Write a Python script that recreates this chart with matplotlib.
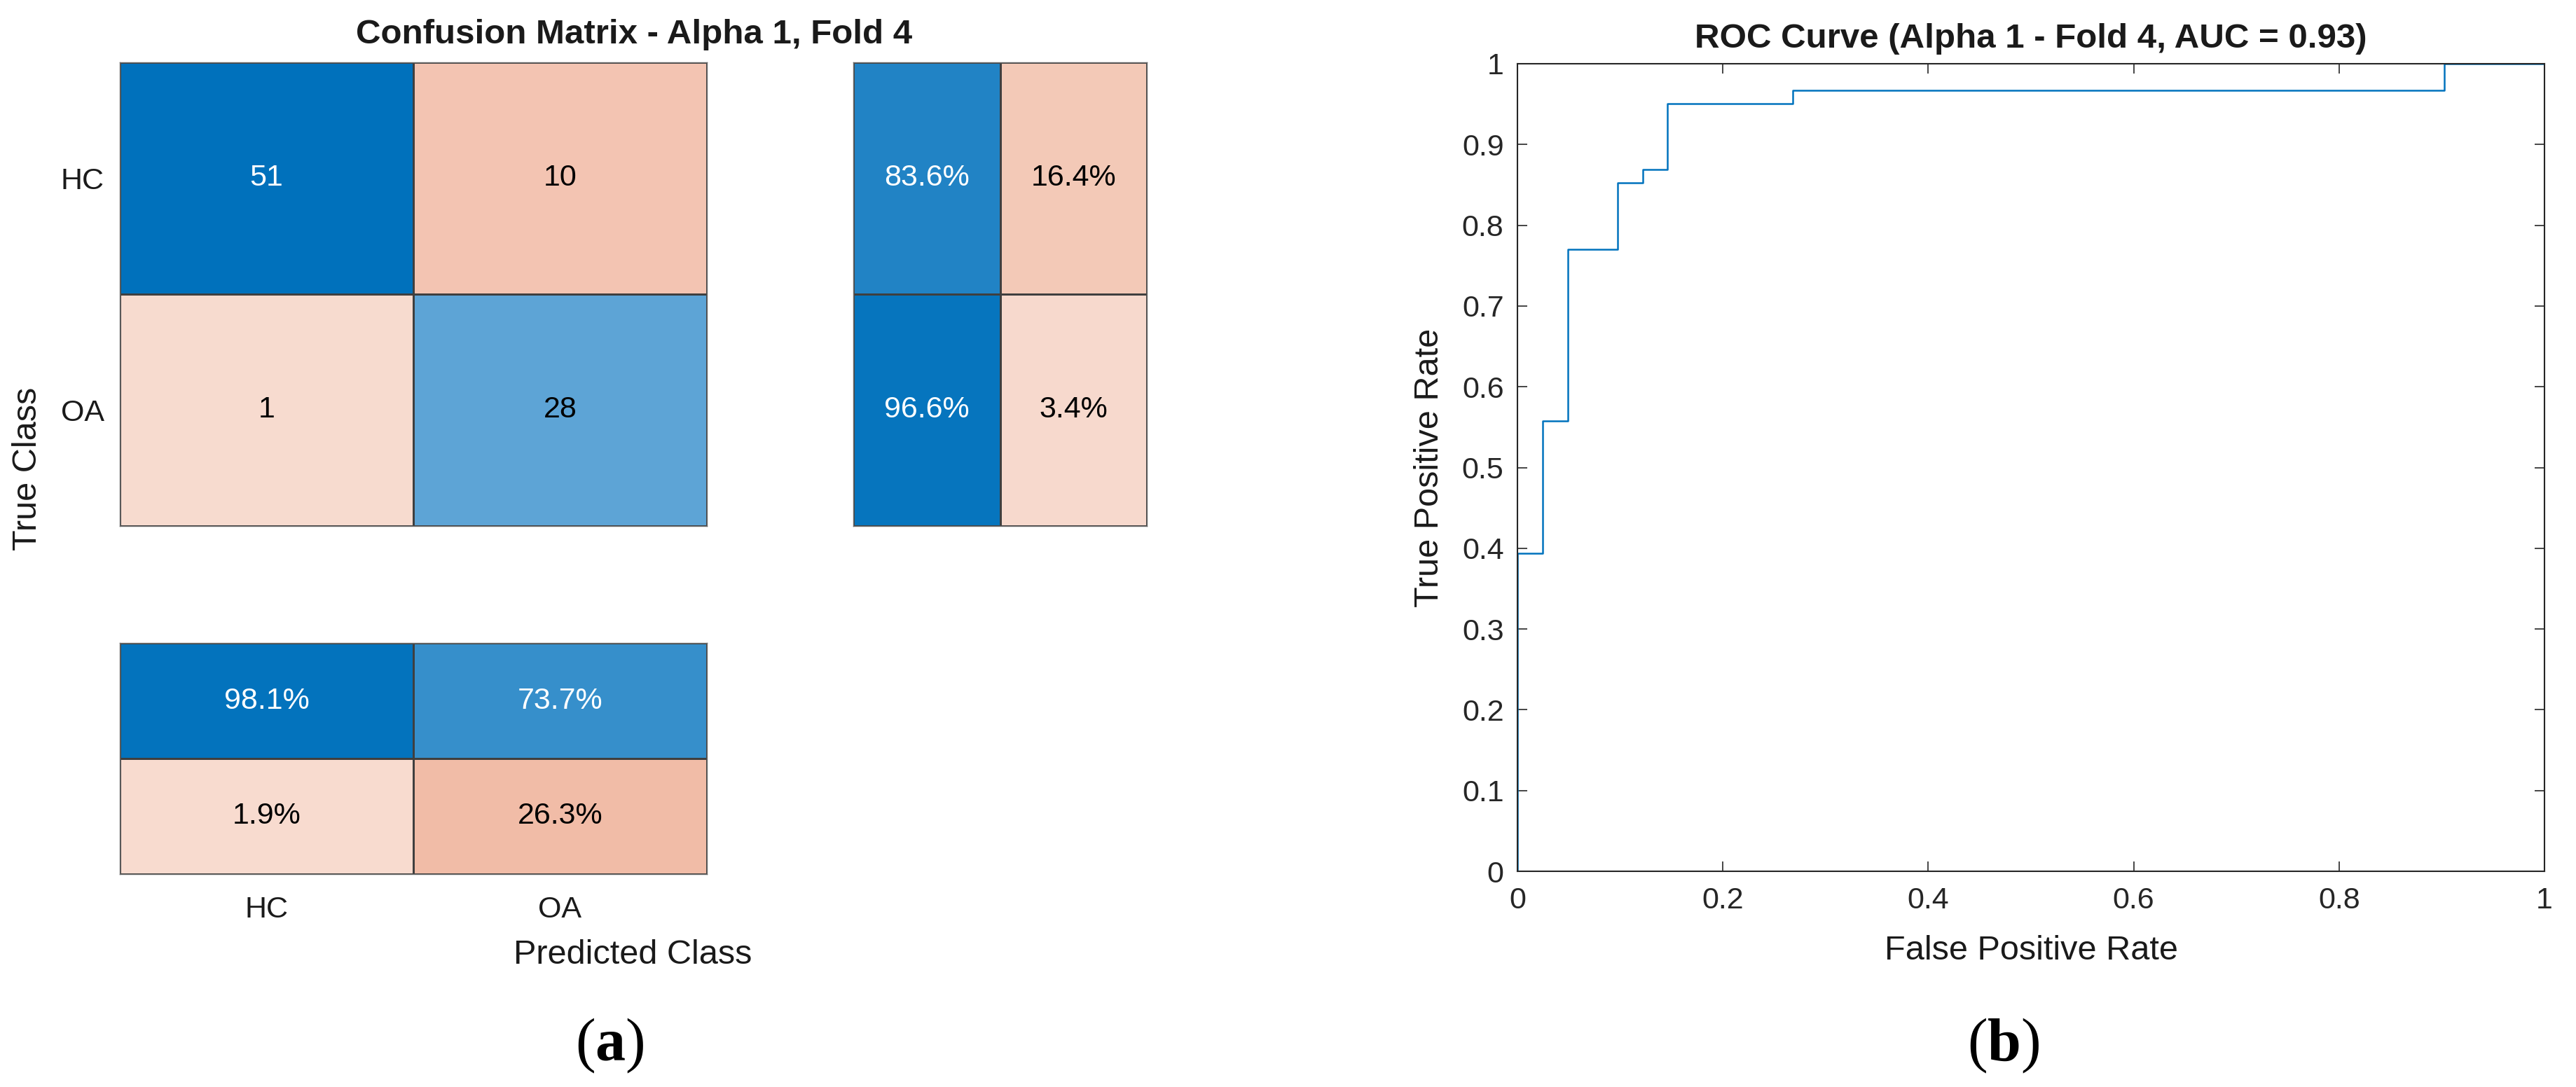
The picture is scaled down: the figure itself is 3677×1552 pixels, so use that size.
import numpy as np
import matplotlib
matplotlib.use("Agg")
import matplotlib.pyplot as plt
from matplotlib.colors import LinearSegmentedColormap

# ---------------- data ----------------
classes = ["HC", "OA"]
counts = np.array([[51, 10],
                   [1, 28]])
# row summary: [correct %, incorrect %] per true class
row_pct = np.array([[83.6, 16.4],
                    [96.6, 3.4]])
# column summary: rows [correct %, incorrect %] per predicted class
col_pct = np.array([[98.1, 73.7],
                    [1.9, 26.3]])

roc_fpr = [0.0, 0.0, 0.0244, 0.0244, 0.0488, 0.0488, 0.0976, 0.0976, 0.122, 0.122,
           0.1463, 0.1463, 0.2683, 0.2683, 0.9024, 0.9024, 1.0]
roc_tpr = [0.0, 0.3934, 0.3934, 0.5574, 0.5574, 0.7705, 0.7705, 0.8525, 0.8525, 0.8689,
           0.8689, 0.9508, 0.9508, 0.9672, 0.9672, 1.0, 1.0]
auc_value = 0.93
fold_title_cm = "Confusion Matrix - Alpha 1, Fold 4"
fold_title_roc = "ROC Curve (Alpha 1 - Fold 4, AUC = %.2f)" % auc_value

# ---------------- style ----------------
plt.rcParams["font.family"] = ["Liberation Sans", "DejaVu Sans"]
plt.rcParams["mathtext.fontset"] = "custom"
plt.rcParams["mathtext.rm"] = "Liberation Serif"
plt.rcParams["mathtext.bf"] = "Liberation Serif:bold"

W, H = 3677, 1552
fig = plt.figure(figsize=(W / 100, H / 100), dpi=100)

cmap_good = LinearSegmentedColormap.from_list(
    "good", [(206 / 255, 226 / 255, 246 / 255), (0 / 255, 113 / 255, 188 / 255)])
cmap_bad = LinearSegmentedColormap.from_list(
    "bad", [(248 / 255, 221 / 255, 210 / 255), (220 / 255, 96 / 255, 45 / 255)])

TXT = "#1a1a1a"
EDGE = "#3f3f3f"
CELL_FS = 31
TICK_FS = 31
LABEL_FS = 35
TITLE_FS = 35.5


def fax(x0, y0, x1, y1):
    """axes from pixel box (left, top, right, bottom)"""
    return fig.add_axes([x0 / W, 1 - y1 / H, (x1 - x0) / W, (y1 - y0) / H])


def draw_panel(ax, values, good_mask, vmax, fmt):
    nr, nc = values.shape
    good = np.ma.masked_where(~good_mask, values)
    bad = np.ma.masked_where(good_mask, values)
    ax.pcolormesh(np.arange(nc + 1), np.arange(nr + 1), good, cmap=cmap_good,
                  vmin=0, vmax=vmax, edgecolors=EDGE, linewidth=1.0)
    ax.pcolormesh(np.arange(nc + 1), np.arange(nr + 1), bad, cmap=cmap_bad,
                  vmin=0, vmax=vmax, edgecolors=EDGE, linewidth=1.0)
    ax.set_xlim(0, nc)
    ax.set_ylim(nr, 0)
    for i in range(nr):
        for j in range(nc):
            v = values[i, j]
            c = (cmap_good if good_mask[i, j] else cmap_bad)(v / vmax)
            lum = 0.299 * c[0] + 0.587 * c[1] + 0.114 * c[2]
            ax.text(j + 0.5, i + 0.5, fmt(v), ha="center", va="center",
                    fontsize=CELL_FS, color="white" if lum < 0.53 else "black")
    for s in ax.spines.values():
        s.set_color("#6a6a6a")
        s.set_linewidth(1.0)
    ax.set_xticks([])
    ax.set_yticks([])


# main confusion matrix
ax_m = fax(171, 88.6, 1009, 751)
diag = np.eye(2, dtype=bool)
draw_panel(ax_m, counts, diag, counts.max(), lambda v: "%d" % v)
ax_m.set_yticks([0.5, 1.5])
ax_m.set_yticklabels(classes, fontsize=TICK_FS, color=TXT)
ax_m.tick_params(axis="y", length=0, pad=16)

# row summary
ax_r = fax(1218, 88.6, 1637, 751)
draw_panel(ax_r, row_pct, np.array([[True, False], [True, False]]), 100.0,
           lambda v: "%.1f%%" % v)

# column summary
ax_c = fax(171, 918, 1009, 1248)
draw_panel(ax_c, col_pct, np.array([[True, True], [False, False]]), 100.0,
           lambda v: "%.1f%%" % v)
ax_c.set_xticks([0.5, 1.5])
ax_c.set_xticklabels(classes, fontsize=TICK_FS, color=TXT)
ax_c.tick_params(axis="x", length=0, pad=22)

fig.text(905 / W, 1 - 50 / H, fold_title_cm, ha="center", va="center",
         fontsize=TITLE_FS, fontweight="bold", color=TXT)
fig.text(40 / W, 1 - 669 / H, "True Class", rotation=90, ha="center", va="center",
         fontsize=LABEL_FS, color=TXT)
fig.text(903 / W, 1 - 1363 / H, "Predicted Class", ha="center", va="center",
         fontsize=LABEL_FS, color=TXT)

# ROC curve
ax = fax(2166, 91, 3632, 1244)
ax.plot(roc_fpr, roc_tpr, color="#0072BD", linewidth=1.8)
ax.set_xlim(0, 1)
ax.set_ylim(0, 1)
xt = np.round(np.arange(0, 1.01, 0.2), 1)
yt = np.round(np.arange(0, 1.01, 0.1), 1)
ax.set_xticks(xt)
ax.set_xticklabels(["%g" % v for v in xt])
ax.set_yticks(yt)
ax.set_yticklabels(["%g" % v for v in yt])
ax.tick_params(direction="in", length=10, width=1.2, top=True, right=True,
               labelsize=TICK_FS, colors="#262626")
ax.tick_params(axis="x", pad=16)
ax.tick_params(axis="y", pad=14)
for s in ax.spines.values():
    s.set_color("#262626")
    s.set_linewidth(1.5)
ax.set_xlabel("False Positive Rate", fontsize=LABEL_FS, color=TXT, va="center")
ax.xaxis.set_label_coords(0.5, (1244 - 1357) / 1153)
ax.set_ylabel("True Positive Rate", fontsize=LABEL_FS, color=TXT, va="center")
ax.yaxis.set_label_coords((2040 - 2166) / 1466, 0.5)
ax.text(0.5, 1 + (91 - 55) / 1153, fold_title_roc, transform=ax.transAxes,
        ha="center", va="center", fontsize=TITLE_FS, fontweight="bold", color=TXT)

# panel letters
for xc, letter in [(870, "a"), (2860, "b")]:
    fig.text(xc / W, 1 - 1493 / H, "(" + r"$\mathbf{" + letter + "}$" + ")",
             ha="center", va="center", fontsize=62, family="Liberation Serif",
             color="black")

fig.savefig("out.png", dpi=100, facecolor="white")
